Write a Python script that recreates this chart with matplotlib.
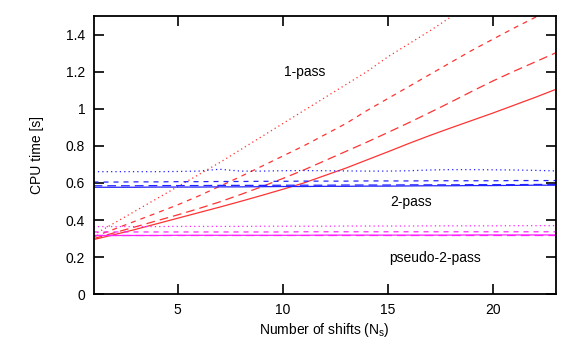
import matplotlib
matplotlib.use("Agg")
import matplotlib.pyplot as plt

plt.rcParams['font.family'] = ['Liberation Sans', 'DejaVu Sans']
plt.rcParams['mathtext.fontset'] = 'custom'
plt.rcParams['mathtext.rm'] = 'Liberation Sans'

shifts = list(range(1, 24))

# 1-pass (red)
one_solid = [0.295, 0.322, 0.35, 0.38, 0.41, 0.44, 0.47, 0.501, 0.533, 0.566, 0.60, 0.64,
             0.68, 0.724, 0.768, 0.813, 0.856, 0.897, 0.937, 0.977, 1.019, 1.061, 1.105]
one_long = [0.30, 0.332, 0.364, 0.396, 0.428, 0.462, 0.498, 0.538, 0.58, 0.624, 0.67, 0.72,
            0.77, 0.82, 0.872, 0.925, 0.98, 1.036, 1.094, 1.15, 1.202, 1.252, 1.302]
one_short = [0.31, 0.352, 0.395, 0.438, 0.482, 0.53, 0.582, 0.635, 0.69, 0.745, 0.80, 0.86,
             0.92, 0.99, 1.055, 1.12, 1.185, 1.25, 1.315, 1.375, 1.435, 1.492, 1.55]
one_dot = [0.32, 0.385, 0.45, 0.515, 0.58, 0.645, 0.71, 0.78, 0.85, 0.92, 0.99, 1.06,
           1.13, 1.20, 1.28, 1.35, 1.42, 1.495, 1.57, 1.64, 1.71, 1.78, 1.85]

# 2-pass (blue)
two_solid = [0.577, 0.577, 0.577, 0.578, 0.578, 0.578, 0.579, 0.579, 0.580, 0.581, 0.581, 0.582,
             0.582, 0.583, 0.583, 0.584, 0.585, 0.585, 0.586, 0.586, 0.587, 0.588, 0.588]
two_long = [0.585, 0.585, 0.585, 0.586, 0.586, 0.586, 0.587, 0.587, 0.587, 0.588, 0.588, 0.588,
            0.589, 0.589, 0.589, 0.590, 0.590, 0.590, 0.591, 0.591, 0.591, 0.592, 0.592]
two_short = [0.605, 0.605, 0.606, 0.606, 0.607, 0.607, 0.608, 0.608, 0.609, 0.609, 0.610, 0.610,
             0.610, 0.611, 0.611, 0.611, 0.612, 0.612, 0.612, 0.612, 0.613, 0.613, 0.613]
two_dot = [0.661, 0.661, 0.661, 0.661, 0.662, 0.664, 0.674, 0.664, 0.664, 0.666, 0.667, 0.666,
           0.665, 0.664, 0.664, 0.666, 0.670, 0.672, 0.672, 0.671, 0.670, 0.668, 0.665]

# pseudo-2-pass (magenta)
ps_solid = [0.317, 0.317, 0.317, 0.317, 0.318, 0.318, 0.318, 0.318, 0.318, 0.318, 0.318, 0.319,
            0.319, 0.319, 0.319, 0.319, 0.319, 0.319, 0.320, 0.320, 0.320, 0.320, 0.320]
ps_long = [0.322, 0.322, 0.322, 0.322, 0.322, 0.322, 0.322, 0.322, 0.322, 0.322, 0.322, 0.322,
           0.322, 0.322, 0.322, 0.322, 0.322, 0.322, 0.322, 0.322, 0.322, 0.322, 0.322]
ps_short = [0.336, 0.336, 0.336, 0.336, 0.336, 0.336, 0.336, 0.336, 0.336, 0.336, 0.337, 0.337,
            0.337, 0.337, 0.337, 0.337, 0.337, 0.337, 0.337, 0.337, 0.337, 0.337, 0.337]
ps_dot = [0.365, 0.365, 0.365, 0.365, 0.366, 0.366, 0.366, 0.366, 0.367, 0.367, 0.367, 0.367,
          0.368, 0.368, 0.368, 0.368, 0.369, 0.369, 0.369, 0.369, 0.370, 0.370, 0.370]

yticks = [0, 0.2, 0.4, 0.6, 0.8, 1.0, 1.2, 1.4]
ytick_labels = ['0', '0.2', '0.4', '0.6', '0.8', '1', '1.2', '1.4']
xticks = [5, 10, 15, 20]

styles = [(0, ()), (0, (7, 4)), (0, (4, 4)), (0, (1, 2.5))]

fig = plt.figure(figsize=(5.81, 3.49), dpi=100)
ax = fig.add_axes([0.1610, 0.1567, 0.9570 - 0.1610, 0.9542 - 0.1567])

groups = [
    ('#ff3333', [one_solid, one_long, one_short, one_dot]),
    ('#2222ff', [two_solid, two_long, two_short, two_dot]),
    ('#ff22ff', [ps_solid, ps_long, ps_short, ps_dot]),
]
for color, series in groups:
    for vals, ls in zip(series, styles):
        ax.plot(shifts, vals, color=color, linestyle=ls, linewidth=0.9)

ax.text(10.07, 1.197, '1-pass', fontsize=10, va='center', ha='left')
ax.text(15.1, 0.496, '2-pass', fontsize=10, va='center', ha='left')
ax.text(15.08, 0.197, 'pseudo-2-pass', fontsize=10, va='center', ha='left')

ax.set_xlim(1, 23)
ax.set_ylim(0, 1.5)
ax.set_xticks(xticks)
ax.set_yticks(yticks)
ax.set_yticklabels(ytick_labels)
ax.tick_params(direction='in', length=7, width=1.2, top=True, right=True, labelsize=10, pad=6)
for s in ax.spines.values():
    s.set_linewidth(1.3)

ax.set_xlabel(r'Number of shifts (N$_\mathregular{s}$)', fontsize=10, labelpad=3)
ax.set_ylabel('CPU time [s]', fontsize=10, labelpad=16)

fig.savefig('out.png', dpi=100)
